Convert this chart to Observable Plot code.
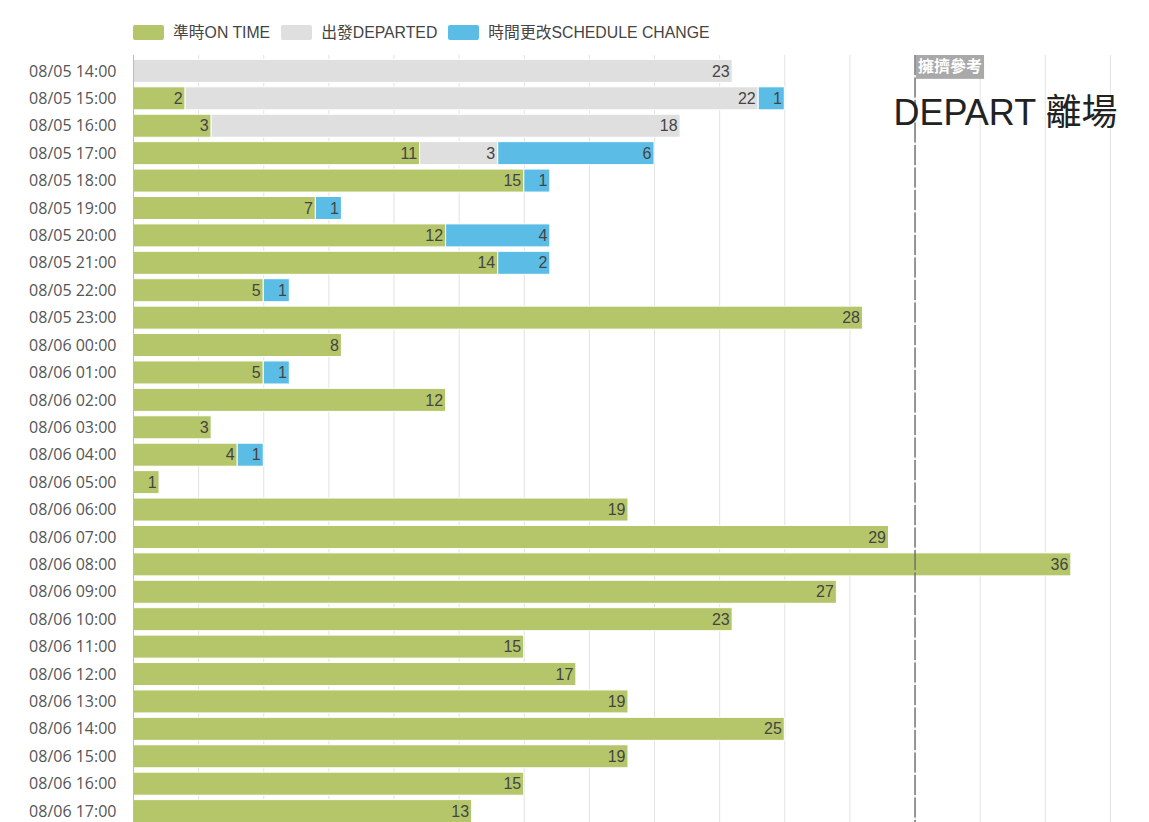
<!DOCTYPE html>
<html><head><meta charset="utf-8">
<script src="https://cdn.jsdelivr.net/npm/d3@7"></script>
<script src="https://cdn.jsdelivr.net/npm/@observablehq/plot@0.6"></script>
<style>
body{margin:0;background:#fff;font-family:"Liberation Sans",Arial,"Noto Sans CJK TC",sans-serif;overflow:hidden}
#legend{height:55px;display:flex;align-items:flex-start;padding-left:133px;padding-top:24px;box-sizing:border-box;font-size:15.8px;color:#444;line-height:17px}
.item{display:flex;align-items:center;margin-right:11px}
.sw{width:31px;height:15px;margin-right:9px;border-radius:2px}
#chart svg{display:block}
</style></head>
<body><div id="legend"></div><div id="chart"></div>
<script>
const times = ["08/05 14:00","08/05 15:00","08/05 16:00","08/05 17:00","08/05 18:00","08/05 19:00","08/05 20:00","08/05 21:00","08/05 22:00","08/05 23:00","08/06 00:00","08/06 01:00","08/06 02:00","08/06 03:00","08/06 04:00","08/06 05:00","08/06 06:00","08/06 07:00","08/06 08:00","08/06 09:00","08/06 10:00","08/06 11:00","08/06 12:00","08/06 13:00","08/06 14:00","08/06 15:00","08/06 16:00","08/06 17:00"];
const onTime =         [0, 2, 3,11,15, 7,12,14, 5,28, 8, 5,12, 3, 4, 1,19,29,36,27,23,15,17,19,25,19,15,13];
const departed =       [23,22,18, 3, 0, 0, 0, 0, 0, 0, 0, 0, 0, 0, 0, 0, 0, 0, 0, 0, 0, 0, 0, 0, 0, 0, 0, 0];
const scheduleChange = [0, 1, 0, 6, 1, 1, 4, 2, 1, 0, 0, 1, 0, 0, 1, 0, 0, 0, 0, 0, 0, 0, 0, 0, 0, 0, 0, 0];
const seriesNames = ["準時ON TIME","出發DEPARTED","時間更改SCHEDULE CHANGE"];
const seriesColors = ["#b5c66a","#dfdfdf","#5bbde6"];
const gridTicks = d3.range(0, 38, 2.5);
const referenceValue = 30;
const referenceLabel = "擁擠參考";
const titleText = "DEPART 離場";

const seriesValues = [onTime, departed, scheduleChange];
const rows = [];
times.forEach((t, i) => {
  seriesNames.forEach((s, j) => {
    const v = seriesValues[j][i];
    if (v > 0) rows.push({time: t, series: s, value: v});
  });
});

// legend
const legend = document.getElementById("legend");
seriesNames.forEach((s, j) => {
  const item = document.createElement("div");
  item.className = "item";
  const sw = document.createElement("span");
  sw.className = "sw";
  sw.style.background = seriesColors[j];
  const lab = document.createElement("span");
  lab.textContent = s;
  item.appendChild(sw); item.appendChild(lab);
  legend.appendChild(item);
});

const font = '"Liberation Sans", Arial, "Noto Sans CJK TC", sans-serif';
const plot = Plot.plot({
  width: 1149, height: 772,
  marginLeft: 133, marginRight: 0, marginTop: 0, marginBottom: 0,
  x: {domain: [0, 39], axis: null},
  y: {domain: times, padding: 0.16, round: false, label: null},
  color: {domain: seriesNames, range: seriesColors},
  style: {fontFamily: font, fontSize: "15px", color: "#444", background: "white"},
  marks: [
    Plot.ruleX(gridTicks, {stroke: "#e2e2e2", strokeWidth: 1}),
    Plot.barX(rows, {y: "time", x: "value", fill: "series", z: "series", order: seriesNames, stroke: "white", strokeWidth: 1}),
    Plot.text(rows, Plot.stackX2({y: "time", x: "value", z: "series", order: seriesNames, text: "value", textAnchor: "end", dx: -3, fill: "#444", fontSize: 16})),
    Plot.ruleX([0], {stroke: "#bbb"}),
    Plot.ruleX([referenceValue], {stroke: "#666", strokeWidth: 1.3, strokeDasharray: "20,2.5"}),
    Plot.text([referenceLabel], {x: referenceValue, frameAnchor: "top", lineAnchor: "top", textAnchor: "start", dx: 3, dy: 5.5, fill: "white", fontWeight: "bold", fontSize: 16, className: "ref-label"}),
    Plot.text([titleText], {frameAnchor: "top-right", textAnchor: "end", lineAnchor: "middle", dx: -32, dy: 58, fontSize: 36, fill: "#222"}),
    Plot.axisY({tickSize: 0, tickPadding: 17, fontSize: 16, fontFamily: '"Open Sans", sans-serif', color: "#555", label: null})
  ]
});
document.getElementById("chart").appendChild(plot);

// background box behind the reference label, sized from the rendered text
const refText = plot.querySelector("g.ref-label text");
if (refText) {
  const bb = refText.getBBox();
  const rect = document.createElementNS("http://www.w3.org/2000/svg", "rect");
  rect.setAttribute("x", bb.x - 2);
  rect.setAttribute("y", bb.y - 2.5);
  rect.setAttribute("width", bb.width + 4);
  rect.setAttribute("height", bb.height + 6);
  rect.setAttribute("fill", "#a9a9a9");
  const tr = refText.getAttribute("transform");
  if (tr) rect.setAttribute("transform", tr);
  refText.parentNode.insertBefore(rect, refText);
}
</script>
</body></html>
